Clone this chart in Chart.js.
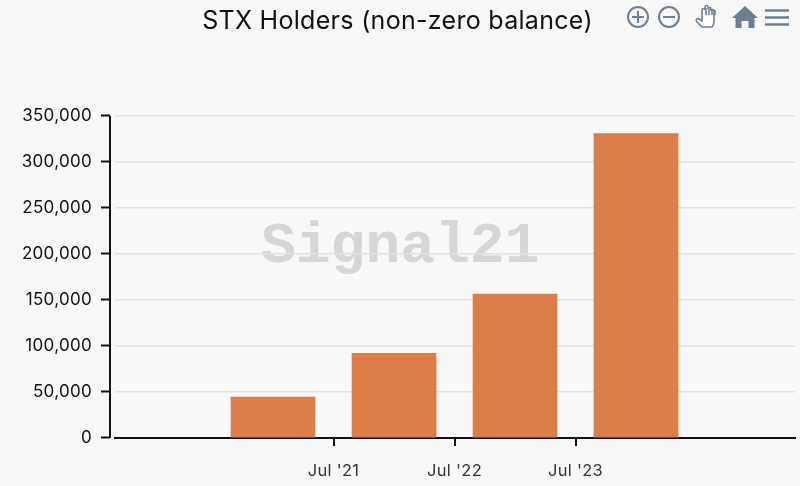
<!DOCTYPE html>
<html>
<head>
<meta charset="utf-8">
<script src="https://cdn.jsdelivr.net/npm/chart.js@4"></script>
<style>
  html, body { margin: 0; padding: 0; background: #f8f8f8; }
  #wrap { position: relative; width: 800px; height: 486px; overflow: hidden; }
  #chart { position: absolute; left: 0; top: 0; }
  #mark {
    position: absolute; left: 261px; top: 212px; width: 290px;
    font: bold 58px "Liberation Mono", monospace; color: #d6d6d6; line-height: 70px;
  }
  #tools { position: absolute; left: 0; top: 0; }
</style>
</head>
<body>
<div id="wrap">
  <div id="mark">Signal21</div>
  <canvas id="chart" width="800" height="486"></canvas>
  <svg id="tools" width="800" height="40" fill="none" stroke="#6e7f94" stroke-width="2">
    <circle cx="638" cy="17" r="10"/><path d="M632 17h12M638 11v12"/>
    <circle cx="669" cy="17" r="10"/><path d="M663 17h12"/>
    <path d="M702 27l-5-5c-2-2 0-4 2-3l3 2v-11c0-2 3-2 3 0v-3c0-2 3-2 3 0v2c0-2 3-2 3 0v2c0-2 3-2 3 0v10c0 3-1 5-2 6z" stroke-width="1.600" fill="#fff"/>
    <path d="M706 8v7M709 8v7M712 9v6M715 10v5" stroke-width="1.600"/>
    <path d="M745 6l13 12h-3.500v10h-6v-7h-7v7h-6v-10h-3.500z" fill="#6e7f94" stroke="none"/>
    <path d="M765 10.500h24M765 17.500h24M765 24.500h24" stroke-width="2.600"/>
  </svg>
</div>
<script>
const titleText = 'STX Holders (non-zero balance)';
const barYears = [2021, 2022, 2023, 2024];
const holders = [44500, 92000, 156500, 331000];
const tickYears = [2021.5, 2022.5, 2023.5];
const tickLabels = ["Jul '21", "Jul '22", "Jul '23"];
const yTicks = [0, 50000, 100000, 150000, 200000, 250000, 300000, 350000];

Chart.defaults.font.family = 'Inter';

// y axis sits a few px left of the plot, so draw it by hand from the scale
const offsetYAxis = {
    id: 'offsetYAxis',
    beforeDraw(chart) {
        chart.ctx.letterSpacing = '0.3px';   // reference text runs a bit wide
    },
    afterDraw(chart) {
        const { ctx, scales: { y } } = chart;
        const ax = y.right - 5;
        ctx.save();
        ctx.strokeStyle = '#111';
        ctx.lineWidth = 2;
        ctx.beginPath();
        ctx.moveTo(ax, y.getPixelForValue(yTicks[yTicks.length - 1]));
        ctx.lineTo(ax, y.getPixelForValue(0));
        yTicks.forEach(v => {
            const py = Math.round(y.getPixelForValue(v)) - 0.5;
            ctx.moveTo(ax - 9, py);
            ctx.lineTo(ax, py);
        });
        ctx.stroke();
        ctx.restore();
    }
};

new Chart(document.getElementById('chart'), {
    type: 'bar',
    data: {
        datasets: [{
            data: barYears.map((x, i) => ({ x, y: holders[i] })),
            backgroundColor: '#db7d47',
            barThickness: 84
        }]
    },
    options: {
        responsive: false,
        animation: false,
        layout: { padding: { right: 5 } },
        plugins: {
            legend: { display: false },
            tooltip: { enabled: false },
            title: {
                display: true,
                text: titleText,
                color: '#111',
                font: { size: 25, weight: '400' },
                padding: { top: 6, bottom: 80 }
            }
        },
        scales: {
            x: {
                type: 'linear',
                offset: false,
                min: 2019.694,
                max: 2025.314,
                afterBuildTicks(axis) { axis.ticks = tickYears.map(value => ({ value })); },
                afterFit(axis) { axis.height = 48; },
                ticks: {
                    autoSkip: false,
                    maxRotation: 0,
                    color: '#333',
                    font: { size: 16.500 },
                    padding: 15,
                    callback: v => tickLabels[tickYears.indexOf(v)]
                },
                grid: { offset: false, drawOnChartArea: false, color: '#111', tickLength: 8, lineWidth: 2 },
                border: { color: '#111', width: 2 }
            },
            y: {
                min: 0,
                max: 350000,
                afterBuildTicks(axis) { axis.ticks = yTicks.map(value => ({ value })); },
                afterFit(axis) { axis.width = 115; },
                ticks: {
                    color: '#111',
                    font: { size: 17 },
                    padding: 23,
                    callback: v => v.toLocaleString('en-US')
                },
                grid: { color: '#e2e2e2', lineWidth: 1.5, drawTicks: false },
                border: { display: false }
            }
        }
    },
    plugins: [offsetYAxis]
});
</script>
</body>
</html>
